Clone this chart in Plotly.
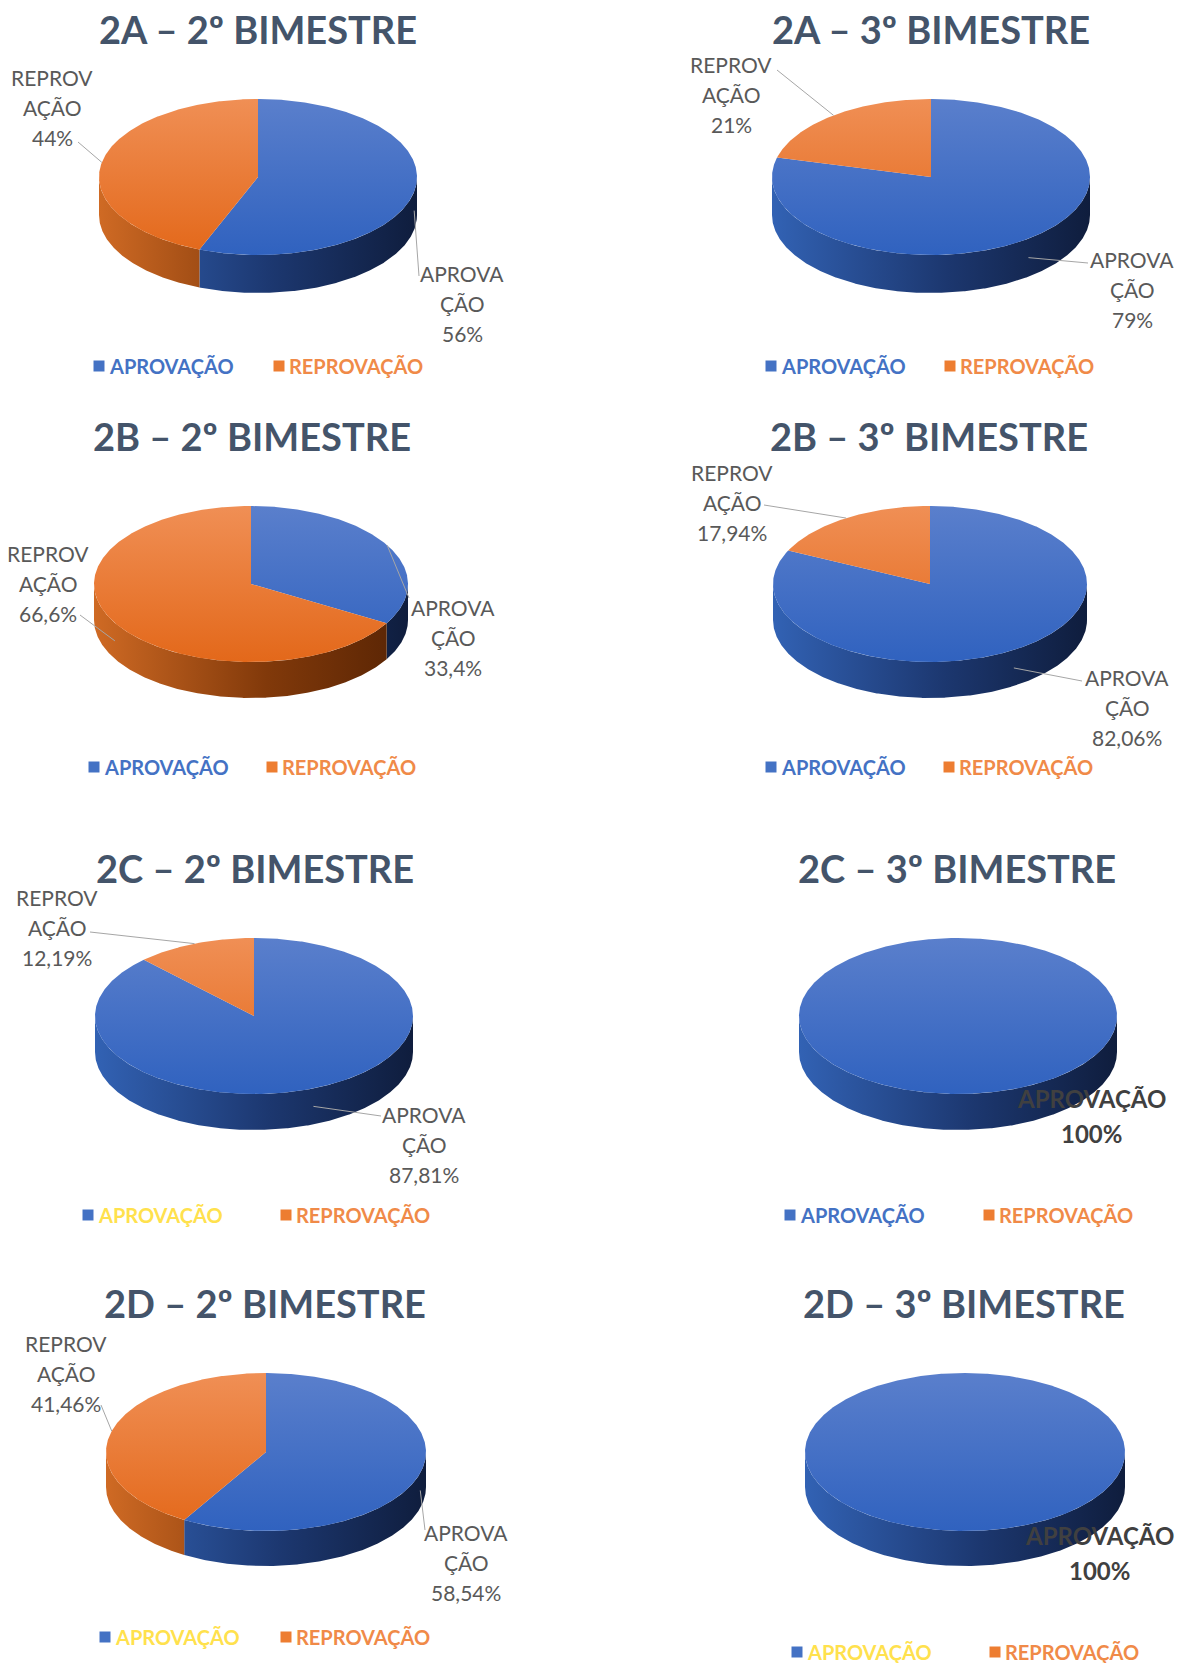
import numpy as np
import plotly.graph_objects as go

# ---------------- data ----------------
turmas = ["2A", "2A", "2B", "2B", "2C", "2C", "2D", "2D"]
bimestres = ["2º", "3º", "2º", "3º", "2º", "3º", "2º", "3º"]
aprovacao = [56, 79, 33.4, 82.06, 87.81, 100, 58.54, 100]
reprovacao = [44, 21, 66.6, 17.94, 12.19, 0, 41.46, 0]
aprov_labels = ["56%", "79%", "33,4%", "82,06%", "87,81%", "100%", "58,54%", "100%"]
reprov_labels = ["44%", "21%", "66,6%", "17,94%", "12,19%", "", "41,46%", ""]
categorias = ["APROVAÇÃO", "REPROVAÇÃO"]

# ---------------- layout (pixels) ----------------
W, H = 1182, 1663
panels = [
    dict(title=(258, 29), c=(258, 177), r=(159, 78), d=38,
         rl=(52, 107), ra=(78, 142), al=(462, 303), aa=(419, 276), leg=(99, 279, 366)),
    dict(title=(931, 29), c=(931, 177), r=(159, 78), d=38,
         rl=(731, 94), ra=(777, 70), al=(1132, 289), aa=(1088, 263), leg=(771, 950, 366)),
    dict(title=(252, 436), c=(251, 584), r=(157, 78), d=36,
         rl=(48, 583), ra=(80, 615), al=(453, 637), aa=(409, 598), leg=(94, 272, 767)),
    dict(title=(929, 436), c=(930, 584), r=(157, 78), d=36,
         rl=(732, 502), ra=(764, 505), al=(1127, 707), aa=(1082, 681), leg=(771, 949, 767)),
    dict(title=(255, 868), c=(254, 1016), r=(159, 78), d=36,
         rl=(57, 927), ra=(90, 932), al=(424, 1144), aa=(381, 1116), leg=(88, 286, 1215)),
    dict(title=(957, 868), c=(958, 1016), r=(159, 78), d=36,
         big=(1091, 1098), leg=(790, 989, 1215)),
    dict(title=(265, 1303), c=(266, 1452), r=(160, 79), d=35,
         rl=(66, 1373), ra=(101, 1405), al=(466, 1562), aa=(425, 1530), leg=(105, 286, 1637)),
    dict(title=(964, 1303), c=(965, 1452), r=(160, 79), d=35,
         big=(1099, 1535), leg=(797, 995, 1652)),
]
aprov_legend_colors = ["#4472C4", "#4472C4", "#4472C4", "#4472C4",
                       "#FFE14D", "#4472C4", "#FFE14D", "#FFE14D"]

TOP = {"A": [[0, "#5a7fcc"], [1, "#3062bf"]], "R": [[0, "#f08f55"], [1, "#e3681a"]]}
SIDE = {"A": [[0, "#3262b4"], [0.55, "#1c376f"], [1, "#0f1d3d"]],
        "R": [[0, "#cf6a24"], [0.55, "#81390a"], [1, "#582404"]]}
LEG = {"A": "#4472C4", "R": "#ED7D31"}
TITLE_COLOR = "#44546A"
LABEL_COLOR = "#595959"
FONT = "Lato"

fig = go.Figure()
annotations = []


def pt(cx, cy, rx, ry, deg):
    t = np.radians(deg)
    return cx + rx * np.sin(t), cy - ry * np.cos(t)


for i, p in enumerate(panels):
    cx, cy = p["c"]
    rx, ry = p["r"]
    d = p["d"]
    slices = [("A", aprovacao[i]), ("R", reprovacao[i])]
    start = 0.0
    spans = []
    for key, v in slices:
        if v <= 0:
            continue
        a0, a1 = start, start + v / 100 * 360
        spans.append((key, a0, a1))
        start = a1
    # side walls (front half only)
    for key, a0, a1 in spans:
        s0, s1 = max(a0, 90), min(a1, 270)
        if s1 <= s0:
            continue
        th = np.linspace(s0, s1, max(int(s1 - s0) * 2, 4))
        x, y = pt(cx, cy, rx, ry, th)
        xs = np.concatenate([x, x[::-1]])
        ys = np.concatenate([y, y[::-1] + d])
        fig.add_trace(go.Scatter(
            x=xs, y=ys, mode="lines", fill="toself", line=dict(width=0),
            fillgradient=dict(type="horizontal", colorscale=SIDE[key],
                              start=cx - rx, stop=cx + rx),
            hoverinfo="skip", showlegend=False))
    # top faces
    for key, a0, a1 in spans:
        th = np.linspace(a0, a1, max(int(a1 - a0) * 2, 4))
        x, y = pt(cx, cy, rx, ry, th)
        if a1 - a0 < 359.9:
            x = np.concatenate([[cx], x, [cx]])
            y = np.concatenate([[cy], y, [cy]])
        fig.add_trace(go.Scatter(
            x=x, y=y, mode="lines", fill="toself", line=dict(width=0),
            fillgradient=dict(type="vertical", colorscale=TOP[key],
                              start=cy - ry, stop=cy + ry),
            hoverinfo="skip", showlegend=False))
    # title
    annotations.append(dict(
        x=p["title"][0], y=p["title"][1], text=f"<b>{turmas[i]} – {bimestres[i]} BIMESTRE</b>",
        showarrow=False, xanchor="center", yanchor="middle",
        font=dict(family=FONT, size=38, color=TITLE_COLOR)))
    # data labels
    if "big" in p:
        bx, by = p["big"]
        annotations.append(dict(x=bx, y=by, text="<b>APROVAÇÃO</b>", showarrow=False,
                                font=dict(family=FONT, size=24, color="#404040")))
        annotations.append(dict(x=bx, y=by + 35, text=f"<b>{aprov_labels[i]}</b>", showarrow=False,
                                font=dict(family=FONT, size=24, color="#404040")))
    else:
        for key, a0, a1 in spans:
            mid = (a0 + a1) / 2
            ex, ey = pt(cx, cy, rx, ry, mid)
            if 90 < mid < 270:
                ey += d / 2
            if key == "A":
                lines = ["APROVA", "ÇÃO", aprov_labels[i]]
                tx, ty = p["al"]
                ax_, ay_ = p["aa"]
            else:
                lines = ["REPROV", "AÇÃO", reprov_labels[i]]
                tx, ty = p["rl"]
                ax_, ay_ = p["ra"]
            fig.add_trace(go.Scatter(
                x=[ex, ax_], y=[ey, ay_], mode="lines",
                line=dict(color="#a6a6a6", width=1),
                hoverinfo="skip", showlegend=False))
            for k, s in enumerate(lines):
                annotations.append(dict(
                    x=tx, y=ty + (k - 1) * 30, text=s, showarrow=False,
                    xanchor="center", yanchor="middle",
                    font=dict(family=FONT, size=21, color=LABEL_COLOR)))
    # legend
    bxl, oxl, ly = p["leg"]
    fig.add_trace(go.Scatter(
        x=[bxl, oxl], y=[ly, ly], mode="markers",
        marker=dict(symbol="square", size=11, color=[LEG["A"], LEG["R"]]),
        hoverinfo="skip", showlegend=False))
    annotations.append(dict(x=bxl + 8, y=ly, text=f"<b>{categorias[0]}</b>", showarrow=False,
                            xanchor="left", yanchor="middle",
                            font=dict(family=FONT, size=20, color=aprov_legend_colors[i])))
    annotations.append(dict(x=oxl + 8, y=ly, text=f"<b>{categorias[1]}</b>", showarrow=False,
                            xanchor="left", yanchor="middle",
                            font=dict(family=FONT, size=20, color="#F08A48")))

fig.update_layout(
    width=W, height=H, margin=dict(l=0, r=0, t=0, b=0),
    paper_bgcolor="white", plot_bgcolor="white",
    xaxis=dict(range=[0, W], visible=False, fixedrange=True),
    yaxis=dict(range=[H, 0], visible=False, fixedrange=True),
    annotations=annotations, showlegend=False,
)
fig.write_html("out.html", config={"displayModeBar": False},
               post_script="document.body.style.margin='0';")
